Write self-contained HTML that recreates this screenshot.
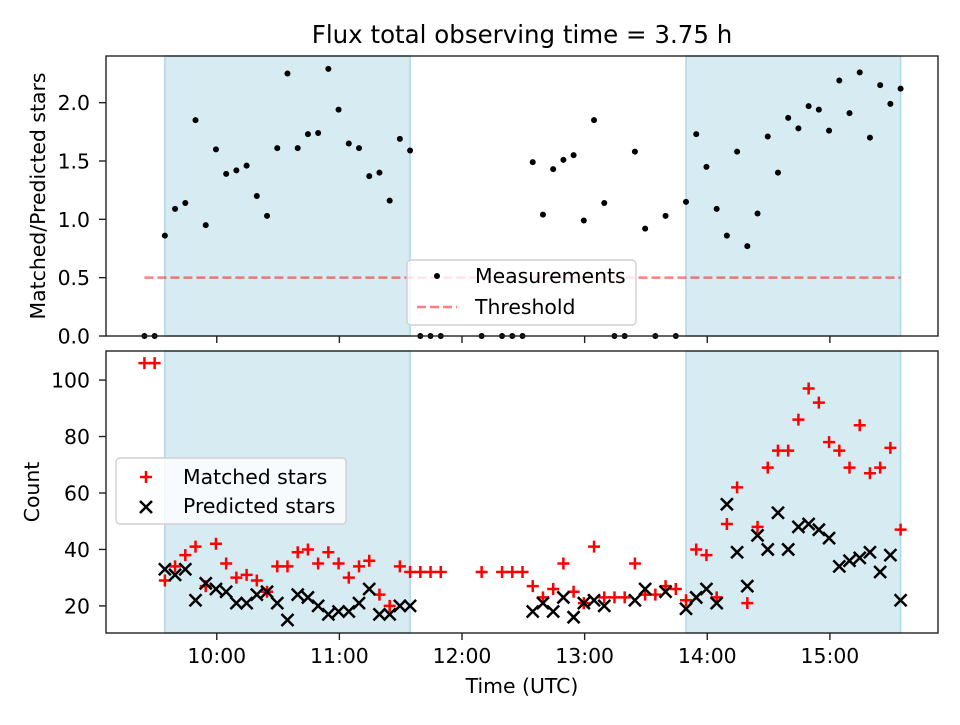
<!DOCTYPE html>
<html><head><meta charset="utf-8"><style>
body{margin:0;background:#fff}
svg text{font-family:"DejaVu Sans","Liberation Sans",sans-serif;fill:#000}
</style></head><body>
<svg id="chart" width="960" height="720" viewBox="0 0 960 720" xmlns="http://www.w3.org/2000/svg"></svg>
<script>
// ---- data (index -> 5-minute step from 09:24.6) ----
const idx = [0,1,2,3,4,5,6,7,8,9,10,11,12,13,14,15,16,17,18,19,20,21,22,23,24,25,26,27,28,29,33,35,36,37,38,39,40,41,42,43,44,45,46,47,48,49,50,51,52,53,54,55,56,57,58,59,60,61,62,63,64,65,66,67,68,69,70,71,72,73,74];
const ratio = [0,0,0.86,1.09,1.14,1.85,0.95,1.60,1.39,1.42,1.46,1.20,1.03,1.61,2.25,1.61,1.73,1.74,2.29,1.94,1.65,1.61,1.37,1.40,1.16,1.69,1.59,0,0,0,0,0,0,0,1.49,1.04,1.43,1.51,1.55,0.99,1.85,1.14,0,0,1.58,0.92,0,1.03,0,1.15,1.73,1.45,1.09,0.86,1.58,0.77,1.05,1.71,1.40,1.87,1.78,1.97,1.94,1.76,2.19,1.91,2.26,1.70,2.15,1.99,2.12];
const matched = [106,106,29,34,38,41,27,42,35,30,31,29,25,34,34,39,40,35,39,35,30,34,36,24,20,34,32,32,32,32,32,32,32,32,27,23,26,35,25,21,41,23,23,23,35,24,24,27,26,22,40,38,23,49,62,21,48,69,75,75,86,97,92,78,75,69,84,67,69,76,47];
const predicted = [null,null,33,31,33,22,28,26,25,21,21,24,25,21,15,24,23,20,17,18,18,21,26,17,17,20,20,null,null,null,null,null,null,null,18,21,18,23,16,21,22,20,null,null,22,26,null,25,null,19,23,26,21,56,39,27,45,40,53,40,48,49,47,44,34,36,37,39,32,38,22];
const shadeStartIdx = [2,53];
const shadeEndIdx = [26,74];
const threshold = 0.5;
const topTicks = [0,0.5,1.0,1.5,2.0];
const topTickLabels = ["0.0","0.5","1.0","1.5","2.0"];
const botTicks = [20,40,60,80,100];
const xTicks = [60,120,180,240,300,360];
const xTickLabels = ["10:00","11:00","12:00","13:00","14:00","15:00"];

const NS="http://www.w3.org/2000/svg";
const svg=document.getElementById('chart');
function mk(tag,attrs,parent){const e=document.createElementNS(NS,tag);for(const k in attrs)e.setAttribute(k,attrs[k]);(parent||svg).appendChild(e);return e;}
const L=106,R=938;
const T0=24.6, STEP=5, XMIN=5.8, XMAX=412.9;
const tOf=i=>T0+STEP*i;
const X=t=>L+(t-XMIN)/(XMAX-XMIN)*(R-L);
const TT=56,TB=336, YT=v=>TB-v/2.40*(TB-TT);
const BT=351,BB=633, BMIN=10.4,BMAX=110.3, YB=v=>BB-(v-BMIN)/(BMAX-BMIN)*(BB-BT);
const FS=20.4;

let t=mk('text',{x:522,y:43,'text-anchor':'middle','font-size':'24.5'});t.textContent='Flux total observing time = 3.75 h';



function panel(top,bot,name){
  for(let k=0;k<shadeStartIdx.length;k++){
    const r=mk('rect',{x:X(tOf(shadeStartIdx[k])),y:top,width:X(tOf(shadeEndIdx[k]))-X(tOf(shadeStartIdx[k])),height:bot-top,fill:'#add8e6','fill-opacity':0.5,stroke:'#add8e6','stroke-width':1.5});
    
    
  }
}
panel(TT,TB,'top');panel(BT,BB,'bottom');

const th=mk('line',{x1:X(tOf(0)),x2:X(tOf(74)),y1:YT(threshold),y2:YT(threshold),stroke:'#ff0000','stroke-opacity':0.5,'stroke-width':2.5,'stroke-dasharray':'9,4'});



idx.forEach((i,k)=>{
  const c=mk('circle',{cx:X(tOf(i)),cy:YT(ratio[k]),r:3,fill:'#000'});
  
  
});
function plus(x,y,col,g){mk('path',{d:`M${x-6},${y}H${x+6}M${x},${y-6}V${y+6}`,stroke:col,'stroke-width':2.5,fill:'none'},g);}
function cross(x,y,col,g){mk('path',{d:`M${x-6},${y-6}L${x+6},${y+6}M${x-6},${y+6}L${x+6},${y-6}`,stroke:col,'stroke-width':2.5,fill:'none'},g);}
idx.forEach((i,k)=>{
  const g=mk('g',{});
  
  
  plus(X(tOf(i)),YB(matched[k]),'#ff0000',g);
});
idx.forEach((i,k)=>{
  if(predicted[k]==null)return;
  const g=mk('g',{});
  
  
  cross(X(tOf(i)),YB(predicted[k]),'#000',g);
});

[[TT,TB,'top-axes-frame'],[BT,BB,'bottom-axes-frame']].forEach(a=>{
  const r=mk('rect',{x:L,y:a[0],width:R-L,height:a[1]-a[0],fill:'none',stroke:'#222','stroke-width':1.4});
  
  
});
topTicks.forEach((v,k)=>{
  mk('line',{x1:L-7,x2:L,y1:YT(v),y2:YT(v),stroke:'#222','stroke-width':1.4});
  const tx=mk('text',{x:L-16,y:YT(v)+7.5,'text-anchor':'end','font-size':FS});tx.textContent=topTickLabels[k];
  
  
});
botTicks.forEach(v=>{
  mk('line',{x1:L-7,x2:L,y1:YB(v),y2:YB(v),stroke:'#222','stroke-width':1.4});
  const tx=mk('text',{x:L-16,y:YB(v)+7.5,'text-anchor':'end','font-size':FS});tx.textContent=String(v);
  
  
});
xTicks.forEach((v,k)=>{
  mk('line',{x1:X(v),x2:X(v),y1:TB,y2:TB+7,stroke:'#222','stroke-width':1.4});
  mk('line',{x1:X(v),x2:X(v),y1:BB,y2:BB+7,stroke:'#222','stroke-width':1.4});
  const tx=mk('text',{x:X(v),y:663,'text-anchor':'middle','font-size':FS});tx.textContent=xTickLabels[k];
  
  
});
let yl=mk('text',{x:0,y:0,'text-anchor':'middle','font-size':FS,transform:`translate(45,${(TT+TB)/2}) rotate(-90)`});yl.textContent='Matched/Predicted stars';


let yl2=mk('text',{x:0,y:0,'text-anchor':'middle','font-size':FS,transform:`translate(39,${(BT+BB)/2}) rotate(-90)`});yl2.textContent='Count';


let xl=mk('text',{x:(L+R)/2,y:693,'text-anchor':'middle','font-size':FS});xl.textContent='Time (UTC)';



const lg1=mk('g',{});


mk('rect',{x:407,y:260,width:229,height:65,rx:4,fill:'#fff','fill-opacity':0.8,stroke:'#d0d0d0','stroke-width':1.4},lg1);
mk('circle',{cx:437,cy:276,r:3,fill:'#000'},lg1);
let a=mk('text',{x:475,y:283,'font-size':FS},lg1);a.textContent='Measurements';
mk('line',{x1:417,x2:457,y1:307,y2:307,stroke:'#ff0000','stroke-opacity':0.5,'stroke-width':2.5,'stroke-dasharray':'9,4'},lg1);
a=mk('text',{x:475,y:314,'font-size':FS},lg1);a.textContent='Threshold';

const lg2=mk('g',{});


mk('rect',{x:116,y:458,width:230,height:66,rx:4,fill:'#fff','fill-opacity':0.8,stroke:'#d0d0d0','stroke-width':1.4},lg2);
plus(146,477,'#ff0000',lg2);
cross(146,507,'#000',lg2);
a=mk('text',{x:183,y:484,'font-size':FS},lg2);a.textContent='Matched stars';
a=mk('text',{x:183,y:513,'font-size':FS},lg2);a.textContent='Predicted stars';
</script>
</body></html>
